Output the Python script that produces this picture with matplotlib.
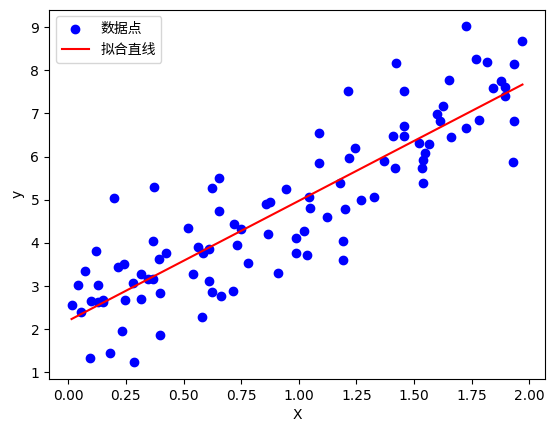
import numpy as np
import matplotlib
matplotlib.use("Agg")
import matplotlib.pyplot as plt

plt.rcParams['font.family'] = ['DejaVu Sans', 'Noto Sans CJK SC']

x_values = [
    0.014, 0.053, 0.043, 0.071, 0.092, 0.097, 0.118, 0.127, 0.130, 0.149,
    0.150, 0.179, 0.197, 0.217, 0.240, 0.231, 0.244, 0.279, 0.283, 0.314,
    0.314, 0.344, 0.366, 0.366, 0.370, 0.392, 0.400, 0.396, 0.426, 0.518,
    0.543, 0.561, 0.583, 0.582, 0.609, 0.609, 0.622, 0.622, 0.652, 0.652,
    0.661,
    0.713, 0.717, 0.730, 0.748, 0.778, 0.856, 0.865, 0.876, 0.912, 0.943,
    0.986, 0.989, 1.025, 1.038, 1.043, 1.047, 1.086, 1.090, 1.121, 1.181,
    1.194, 1.194, 1.199, 1.213, 1.220, 1.246, 1.272, 1.325,
    1.424, 1.455, 1.455, 1.411, 1.459, 1.368, 1.416, 1.520, 1.567, 1.546,
    1.541, 1.537, 1.541, 1.627, 1.602, 1.615, 1.654, 1.663, 1.728, 1.784,
    1.724, 1.771, 1.815, 1.841, 1.876, 1.895, 1.897, 1.936, 1.928, 1.936,
    1.971,
]
y_values = [
    2.555, 2.408, 3.035, 3.343, 1.341, 2.664, 3.807, 3.035, 2.631, 2.671,
    2.624, 1.457, 5.030, 3.443, 3.522, 1.968, 2.687, 3.081, 1.232, 3.290,
    2.710, 3.174, 3.174, 4.051, 5.285, 3.638, 2.849, 1.854, 3.777, 4.334,
    3.290, 3.900, 3.761, 2.276, 3.870, 3.111, 2.868, 5.262, 5.494, 4.729,
    2.780,
    2.896, 4.427, 3.947, 4.311, 3.545, 4.891, 4.195, 4.937, 3.313, 5.239,
    4.125, 3.777, 4.271, 3.715, 5.053, 4.798, 6.538, 5.842, 4.589, 5.378,
    4.033, 3.592, 4.782, 7.513, 5.958, 6.190, 4.984, 5.053,
    8.169, 7.513, 6.701, 6.469, 6.469, 5.889, 5.726, 6.306, 6.283, 6.074,
    5.919, 5.726, 5.378, 7.165, 6.979, 6.831, 7.775, 6.445, 6.654, 6.840,
    9.021, 8.255, 8.186, 7.582, 7.745, 7.606, 7.397, 6.817, 5.865, 8.139,
    8.673,
]
scatter_label = '数据点'
line_label = '拟合直线'
x_label = 'X'
y_label = 'y'

X = np.array(x_values)
Y = np.array(y_values)
slope, intercept = np.polyfit(X, Y, 1)
xs = np.sort(X)
y_fit = intercept + slope * xs

fig = plt.figure(figsize=(5.54, 4.32), dpi=100)
ax = fig.add_axes([49 / 554, (432 - 379.1) / 432, 496 / 554, 369.6 / 432])
ax.scatter(X, Y, color='blue', label=scatter_label)
ax.plot(xs, y_fit, color='red', label=line_label)
ax.set_xlabel(x_label)
ax.set_ylabel(y_label)
ax.legend(loc='upper left')
fig.savefig('out.png', dpi=100)
